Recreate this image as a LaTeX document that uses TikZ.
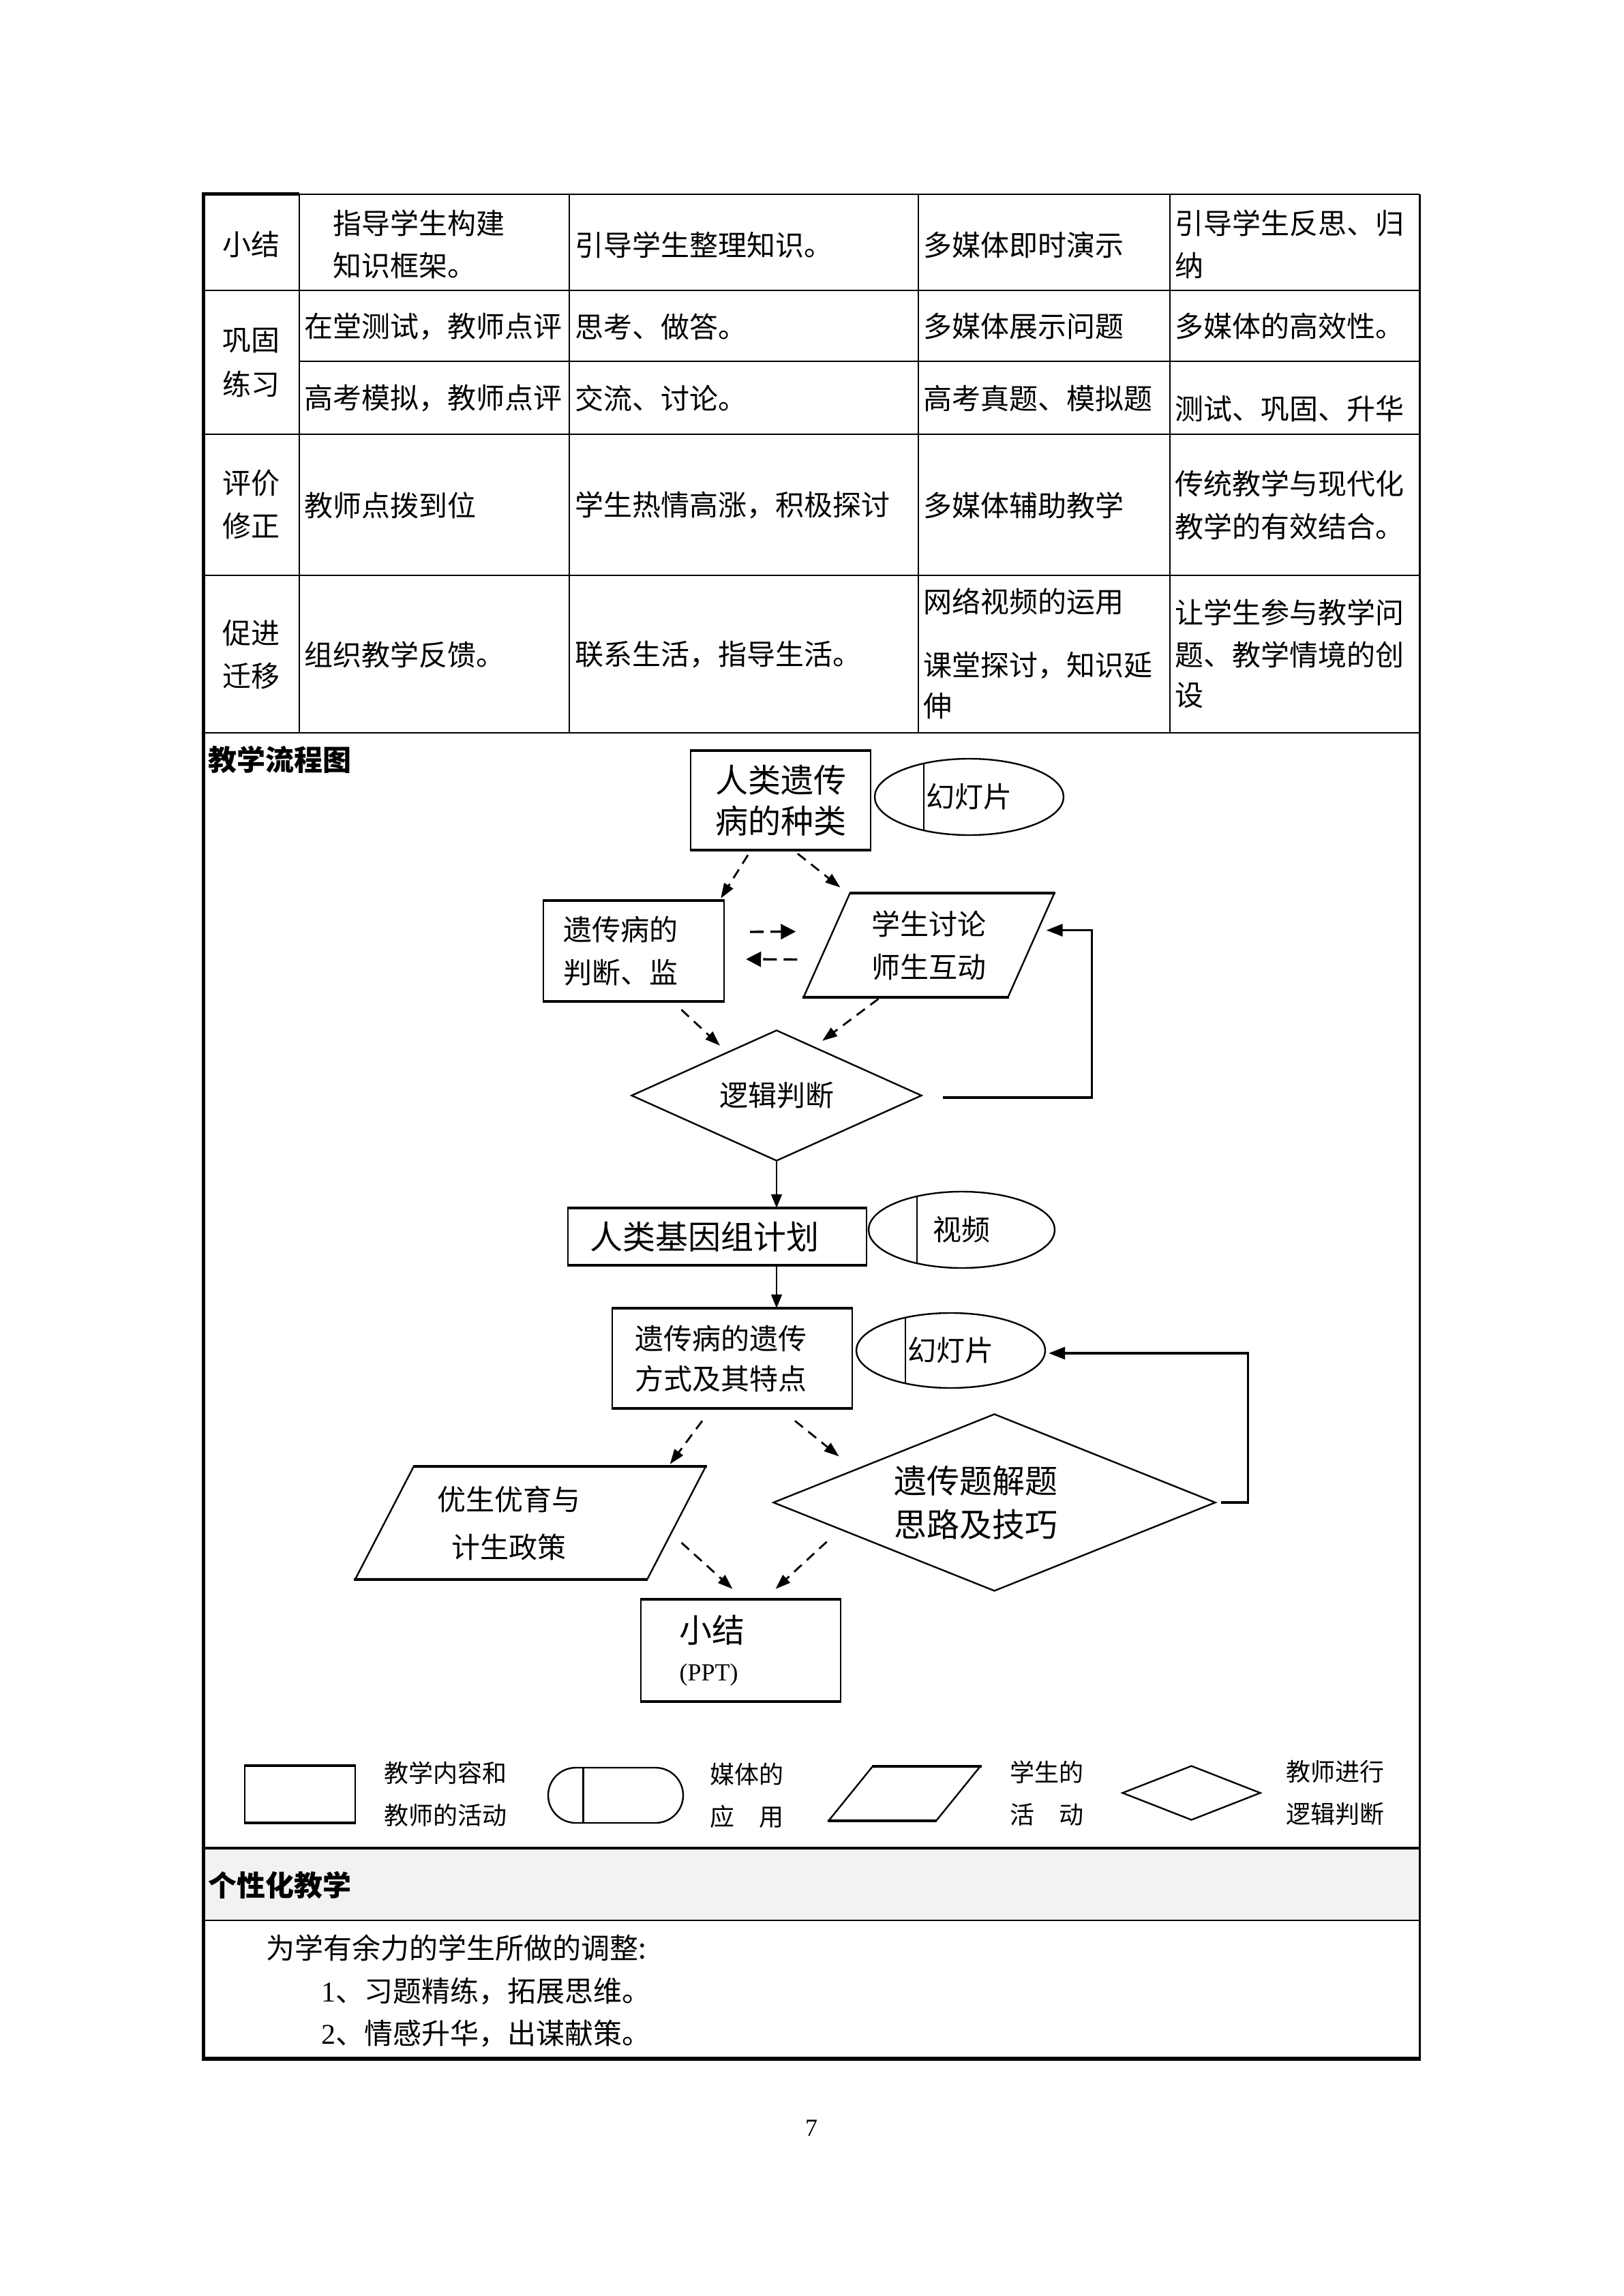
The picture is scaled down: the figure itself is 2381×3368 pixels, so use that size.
\documentclass[tikz,border=0pt]{standalone}
\usepackage{fontspec}
\setmainfont{Noto Sans CJK SC}
\newfontfamily\latinfont{Liberation Serif}
\usetikzlibrary{arrows.meta,positioning,shapes.geometric,shapes.misc,calc}

\definecolor{tbgray}{HTML}{F2F2F2}
\newcommand\wuhao{\fontsize{10.5pt}{15.75pt}\selectfont}
\newcommand\xiaosi{\fontsize{12pt}{15pt}\selectfont}
\newcommand\xiaowu{\fontsize{9pt}{15.5pt}\selectfont}

\tikzset{
  tbline/.style={line width=0.5pt},
  celltext/.style={anchor=west,inner sep=0pt,font=\wuhao},
  headtext/.style={inner sep=0pt,font=\wuhao},
  procbox/.style={draw,line width=0.6pt,rectangle,inner sep=0pt},
  studpara/.style={draw,line width=0.6pt,trapezium,trapezium stretches=true,inner sep=0pt},
  judgedia/.style={draw,line width=0.6pt,diamond,aspect=3,inner sep=0pt},
  mediabar/.style={path picture={\draw[line width=0.6pt]
      ($(path picture bounding box.north west)!0.26!(path picture bounding box.north east)$) --
      ($(path picture bounding box.south west)!0.26!(path picture bounding box.south east)$);}},
  mediaoval/.style={draw,line width=0.6pt,ellipse,inner sep=0pt,font=\wuhao,mediabar},
  legendtext/.style={anchor=west,inner sep=0pt,font=\xiaowu,align=left},
  dasharrow/.style={line width=0.7pt,dash pattern=on 3.75pt off 2.5pt,-{Triangle[length=5.5pt,width=3.8pt]}},
  shortarrow/.style={line width=0.85pt,dash pattern=on 5pt off 2.5pt,-{Triangle[length=5.5pt,width=5.5pt]}},
  solidarrow/.style={line width=0.45pt,-{Triangle[length=5pt,width=4pt]}},
  backline/.style={line width=0.8pt,-{Triangle[length=6pt,width=4.5pt]}},
}

\begin{document}
\begin{tikzpicture}[x=0.25pt,y=-0.25pt]
\useasboundingbox (0,0) rectangle (2381,3368);
\fill[white] (0,0) rectangle (2381,3368);

% table frame
\fill[tbgray] (298,2711) rectangle (2082,2817);
\draw[tbline] (439,285) -- (2082,285);
\foreach \y in {426,637,844,1075,2817} \draw[tbline] (298,\y) -- (2082,\y);
\draw[tbline] (439,530) -- (2082,530);
\draw[line width=0.8pt] (298,2711) -- (2082,2711);
\foreach \x in {439,835,1347,1716} \draw[tbline] (\x,285) -- (\x,1075);
\draw[line width=0.75pt] (2082,285) -- (2082,3020);
\draw[line width=1.25pt] (439,285) -- (298,285) -- (298,3020);
\draw[line width=1.4pt] (296,3020) -- (2084,3020);

% table texts
\foreach \y/\t [count=\i] in {359/小结,500/巩固,563/练习,709/评价,772/修正,929/促进,992/迁移}
  \node[headtext] (h\i) at (368,\y) {\t};
\foreach \x/\y/\t [count=\i] in {
  488/327/指导学生构建, 488/390/知识框架。, 843/359/引导学生整理知识。,
  1354/359/多媒体即时演示, 1723/327/引导学生反思、归, 1723/390/纳,
  446/479/在堂测试，教师点评, 843/479/思考、做答。, 1354/479/多媒体展示问题,
  1723/479/多媒体的高效性。, 446/584/高考模拟，教师点评, 843/584/交流、讨论。,
  1354/584/高考真题、模拟题, 1723/600/测试、巩固、升华,
  446/741/教师点拨到位, 843/741/学生热情高涨，积极探讨, 1354/741/多媒体辅助教学,
  1723/709/传统教学与现代化, 1723/772/教学的有效结合。,
  446/960/组织教学反馈。, 843/960/联系生活，指导生活。,
  1354/882/网络视频的运用, 1354/976/课堂探讨，知识延, 1354/1036/伸,
  1723/898/让学生参与教学问, 1723/960/题、教学情境的创, 1723/1020/设}
  \node[celltext] (c\i) at (\x,\y) {\t};

% flow chart
\node[celltext,font=\wuhao\bfseries] (flowtitle) at (305,1114) {教学流程图};

\node[procbox,minimum width=66pt,minimum height=36pt,font=\xiaosi,align=center] (b1) at (1145,1174) {人类遗传\\病的种类};
\node[mediaoval,minimum width=69.25pt,minimum height=28pt] (e1) at (1421.5,1169) {幻灯片};
\node[procbox,minimum height=36.5pt,text width=51.75pt,inner xsep=7.25pt,align=left,font=\wuhao] (b2) at (929.5,1395) {遗传病的\\判断、监};
\node[studpara,trapezium left angle=64.5,trapezium right angle=115.5,minimum width=92.25pt,minimum height=37.75pt,font=\wuhao,align=center] (p1) at (1362.5,1386.5) {学生讨论\\师生互动};
\node[judgedia,minimum width=106.5pt,minimum height=48pt,font=\wuhao] (d1) at (1139,1607) {逻辑判断};

\node[procbox,minimum height=20.5pt,text width=93.5pt,inner xsep=8pt,align=left,font=\xiaosi] (b3) at (1052,1814) {人类基因组计划};
\node[mediaoval,minimum width=68.25pt,minimum height=28pt] (e2) at (1410.5,1804) {视频};
\node[procbox,minimum height=36.25pt,text width=71.5pt,inner xsep=8.25pt,align=left,font=\fontsize{10.5pt}{14.75pt}\selectfont] (b4) at (1074,1992.5) {遗传病的遗传\\方式及其特点};
\node[mediaoval,minimum width=69.25pt,minimum height=27.5pt] (e3) at (1394.5,1981) {幻灯片};
\node[studpara,trapezium left angle=58.1,trapezium right angle=121.9,minimum width=128.5pt,minimum height=41pt,font=\fontsize{10.5pt}{17.5pt}\selectfont,align=center] (p2) at (778,2234) {优生优育与\hspace*{16pt}\\计生政策\hspace*{16pt}};
\node[judgedia,minimum width=162.25pt,minimum height=65pt,font=\fontsize{12pt}{16pt}\selectfont,align=center] (d2) at (1458.5,2204) {\hspace*{-13.5pt}遗传题解题\\\hspace*{-13.5pt}思路及技巧};
\node[procbox,minimum height=37pt,text width=45pt,inner xsep=14.125pt,align=left,font=\xiaosi] (b5) at (1086.5,2421) {小结\\[-1pt]{\latinfont\fontsize{9pt}{9pt}\selectfont (PPT)}};

\foreach \n in {b1,b2,b3,b4,b5}
  \draw[line width=0.9pt] (\n.north west) -- (\n.north east) (\n.south west) -- (\n.south east);
\foreach \n in {p1,p2}
  \draw[line width=0.9pt] (\n.top left corner) -- (\n.top right corner) (\n.bottom left corner) -- (\n.bottom right corner);

% connectors
\draw[dasharrow] ([shift={(-48,7)}]b1.south) -- ([shift={(-6,-3)}]b2.north east);
\draw[dasharrow] ([shift={(25,5)}]b1.south) -- ([shift={(-13,-8)}]p1.top left corner);
\draw[shortarrow] ([shift={(37,-28)}]b2.east) -- ([shift={(-44,-20)}]p1.west);
\draw[shortarrow] ([shift={(-42,21)}]p1.west) -- ([shift={(31,12)}]b2.east);
\draw[dasharrow] ([shift={(70,12)}]b2.south) -- ([shift={(-83,24)}]d1.north);
\draw[dasharrow] ([shift={(-74,2)}]p1.south) -- ([shift={(67,17)}]d1.north);
\draw[backline] ([shift={(30,3)}]d1.east) -- ++(218,0) |- ([shift={(21,-22)}]p1.east);
\draw[solidarrow] (d1.south) -- (d1.south |- b3.north);
\draw[solidarrow] (d1.south |- b3.south) -- (d1.south |- b4.north);
\draw[dasharrow] ([shift={(-44,18)}]b4.south) -- ([shift={(-54,-3)}]p2.top right corner);
\draw[dasharrow] ([shift={(92,18)}]b4.south) -- ([shift={(-65,-2)}]d2.north west);
\draw[dasharrow] ([shift={(6,29)}]p2.east) -- ([shift={(-12,-15)}]b5.north);
\draw[dasharrow] ([shift={(-83,-8)}]d2.south west) -- ([shift={(51,-15)}]b5.north);
\draw[backline] ([shift={(7,0)}]d2.east) -- ++(39,0) |- ([shift={(4,4)}]e3.east);

% legend
\node[procbox,minimum width=40.5pt,minimum height=20.5pt] (lgbox) at (440,2632) {};
\node[draw,line width=0.6pt,rounded rectangle,inner sep=1pt,minimum width=51.5pt,minimum height=20.25pt,mediabar] (lgmedia) at (903,2633.5) {};
\node[studpara,inner sep=1pt,trapezium left angle=56.3,trapezium right angle=123.7,minimum width=55.25pt,minimum height=19.5pt] (lgpara) at (1326.5,2631) {};
\node[judgedia,inner sep=1pt,minimum width=50.75pt,minimum height=20pt] (lgdia) at (1747.5,2630) {};
\draw[line width=0.9pt] (lgbox.north west) -- (lgbox.north east) (lgbox.south west) -- (lgbox.south east);
\draw[line width=0.9pt] (lgpara.top left corner) -- (lgpara.top right corner) (lgpara.bottom left corner) -- (lgpara.bottom right corner);
\node[legendtext,right=10pt of lgbox] (lgt1) {教学内容和\\教师的活动};
\node[legendtext,right=9.25pt of lgmedia] (lgt2) {媒体的\\应　用};
\node[legendtext,right=18.4pt of lgpara] (lgt3) {学生的\\活　动};
\node[legendtext,right=8.75pt of lgdia] (lgt4) {教师进行\\逻辑判断};

% individual teaching
\node[celltext,font=\wuhao\bfseries] (indtitle) at (305,2765) {个性化教学};
\node[celltext] (adj) at (390,2857) {为学有余力的学生所做的调整:};
\node[celltext] (adj1) at (471,2921) {{\latinfont 1}、习题精练，拓展思维。};
\node[celltext] (adj2) at (471,2983) {{\latinfont 2}、情感升华，出谋献策。};

\node[inner sep=0pt,font=\latinfont\fontsize{9pt}{9pt}\selectfont] (pageno) at (1190,3122) {7};
\end{tikzpicture}
\end{document}
